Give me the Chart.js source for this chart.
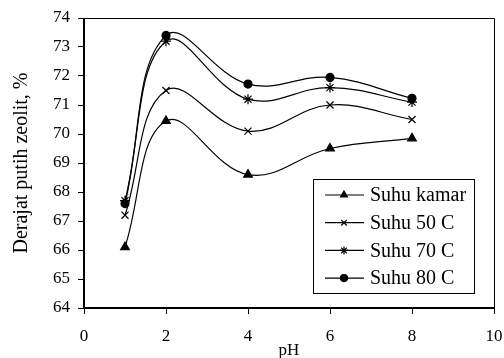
<!DOCTYPE html>
<html>
<head>
<meta charset="utf-8">
<script src="https://cdn.jsdelivr.net/npm/chart.js@4.4.0/dist/chart.umd.min.js"></script>
<style>
  html, body { margin: 0; padding: 0; background: #fff; }
  #wrap { width: 504px; height: 358px; }
</style>
</head>
<body>
<div id="wrap"><canvas id="chart"></canvas></div>
<script>
const phValues = [1, 2, 4, 6, 8];
const suhuKamar = [66.1, 70.45, 68.6, 69.5, 69.85];
const suhu50 = [67.2, 71.5, 70.1, 71.0, 70.5];
const suhu70 = [67.7, 73.2, 71.2, 71.6, 71.1];
const suhu80 = [67.6, 73.4, 71.72, 71.95, 71.23];
const seriesLabels = ['Suhu kamar', 'Suhu 50 C', 'Suhu 70 C', 'Suhu 80 C'];
const pointStyles = ['triangle', 'crossRot', 'star', 'circle'];

const serif = "'Liberation Serif', 'Times New Roman', serif";

function makeSet(label, values, style) {
    return {
        label: label,
        data: values.map((v, i) => ({ x: phValues[i], y: v })),
        borderColor: '#000',
        backgroundColor: '#000',
        borderWidth: 1.2,
        pointStyle: style,
        pointRadius: style === 'circle' ? 4 : 5,
        pointBorderColor: '#000',
        pointBackgroundColor: '#000',
        pointBorderWidth: 1.2,
        tension: 0.4,
        fill: false
    };
}

// frame + legend box drawn inside the plot, like the original
const framePlugin = {
    id: 'frame',
    afterDraw(chart) {
        const ctx = chart.ctx;
        const a = chart.chartArea;
        ctx.save();
        ctx.strokeStyle = '#000';
        ctx.lineWidth = 1;
        ctx.beginPath();
        ctx.moveTo(a.left, a.top + 0.5);
        ctx.lineTo(a.right + 0.5, a.top + 0.5);
        ctx.lineTo(a.right + 0.5, a.bottom);
        ctx.stroke();
        ctx.lineWidth = 2;
        ctx.beginPath();
        ctx.moveTo(a.left, a.top);
        ctx.lineTo(a.left, a.bottom);
        ctx.lineTo(a.right + 1, a.bottom);
        ctx.stroke();

        // legend
        const bx = 313, by = 179, bw = 161, bh = 114;
        ctx.fillStyle = '#fff';
        ctx.fillRect(bx, by, bw, bh);
        ctx.lineWidth = 1;
        ctx.strokeRect(bx + 0.5, by + 0.5, bw, bh);
        ctx.font = '20px ' + serif;
        ctx.textBaseline = 'middle';
        chart.data.datasets.forEach((ds, i) => {
            const y = 195 + i * 27.7;
            ctx.strokeStyle = '#000';
            ctx.lineWidth = 1.2;
            ctx.beginPath();
            ctx.moveTo(325, y);
            ctx.lineTo(364, y);
            ctx.stroke();
            ctx.fillStyle = '#000';
            Chart.helpers.drawPoint(ctx, {
                pointStyle: ds.pointStyle,
                radius: ds.pointStyle === 'circle' ? 3.5 : 4,
                rotation: 0,
                borderWidth: 1.2
            }, 344, y);
            ctx.fillStyle = '#000';
            ctx.fillText(ds.label, 370, y + 1);
        });
        ctx.restore();
    }
};

new Chart(document.getElementById('chart').getContext('2d'), {
    type: 'line',
    data: {
        datasets: [
            makeSet(seriesLabels[0], suhuKamar, pointStyles[0]),
            makeSet(seriesLabels[1], suhu50, pointStyles[1]),
            makeSet(seriesLabels[2], suhu70, pointStyles[2]),
            makeSet(seriesLabels[3], suhu80, pointStyles[3])
        ]
    },
    options: {
        responsive: true,
        maintainAspectRatio: false,
        animation: false,
        layout: { padding: { left: 0, top: 18, right: 10, bottom: 0 } },
        plugins: {
            legend: { display: false },
            tooltip: { enabled: false }
        },
        scales: {
            x: {
                type: 'linear',
                min: 0,
                max: 10,
                ticks: { stepSize: 2, color: '#000', font: { family: serif, size: 17 }, padding: 12 },
                grid: { drawOnChartArea: false, tickLength: 6, color: '#000' },
                border: { display: false },
                title: { display: true, text: 'pH', color: '#000', font: { family: serif, size: 17 }, padding: { top: 0, bottom: -3 } },
                afterFit(scale) {
                    scale.height = 50;
                    scale.paddingRight = 0;
                    scale.paddingLeft = 0;
                }
            },
            y: {
                min: 64,
                max: 74,
                ticks: { stepSize: 1, color: '#000', font: { family: serif, size: 17 }, padding: 8 },
                grid: { drawOnChartArea: false, tickLength: 6, color: '#000' },
                border: { display: false },
                title: { display: true, text: 'Derajat putih zeolit, %', color: '#000', font: { family: serif, size: 20 }, padding: { top: 10, bottom: 0 } },
                afterFit(scale) {
                    scale.width = 84;
                    scale.paddingTop = 0;
                    scale.paddingBottom = 0;
                }
            }
        }
    },
    plugins: [framePlugin]
});
</script>
</body>
</html>
